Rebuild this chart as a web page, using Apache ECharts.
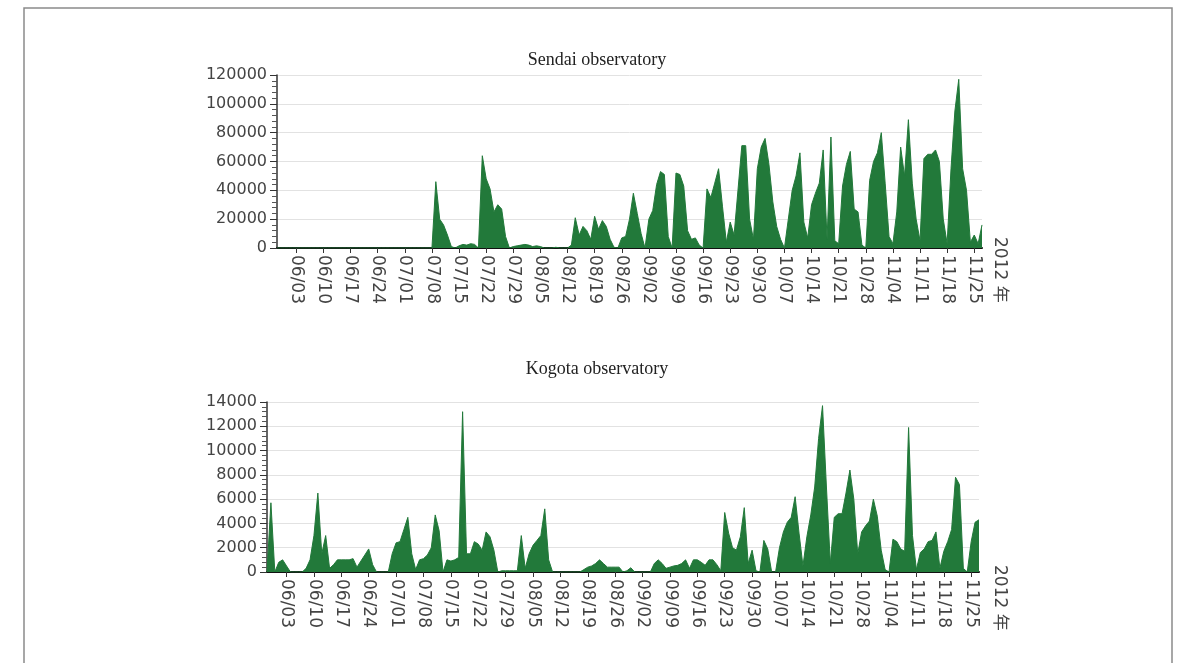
<!DOCTYPE html>
<html>
<head>
<meta charset="utf-8">
<script src="https://cdn.jsdelivr.net/npm/echarts@6/dist/echarts.min.js"></script>
<style>
  body { margin: 0; background: #fff; }
  #chart { width: 1181px; height: 663px; }
</style>
</head>
<body>
<div id="chart"></div>
<script>
// daily values, 2012-05-29 .. 2012-11-27
const sendai = [
  0, 0, 0, 0, 0, 0, 0, 0, 0, 0,
  0, 0, 0, 0, 0, 0, 0, 0, 0, 0,
  0, 0, 0, 0, 0, 0, 0, 0, 0, 0,
  0, 0, 0, 0, 0, 0, 0, 0, 0, 0,
  0, 46000, 20000, 16000, 9000, 1000, 0, 1500, 2500, 2000,
  3000, 2500, 0, 64000, 48000, 41000, 25000, 30000, 27000, 8000,
  0, 1000, 1500, 2000, 2500, 2000, 1000, 1500, 1000, 0,
  0, 0, 500, 0, 0, 0, 2000, 21000, 9000, 15000,
  12000, 6000, 22000, 13000, 19000, 15000, 6000, 500, 0, 7000,
  8000, 20000, 38000, 24000, 10000, 0, 20000, 26000, 44000, 53000,
  51000, 8000, 0, 52000, 51000, 43000, 12000, 6000, 7000, 2000,
  0, 41000, 35000, 45000, 55000, 29000, 4000, 18000, 9000, 40000,
  71000, 71000, 20000, 6000, 55000, 70000, 76000, 58000, 32000, 15000,
  6000, 0, 20000, 40000, 50000, 66000, 18000, 7000, 30000, 38000,
  45000, 68000, 6000, 77000, 5000, 3000, 43000, 58000, 67000, 27000,
  25000, 2000, 0, 47000, 60000, 66000, 80000, 45000, 8000, 3000,
  25000, 70000, 50000, 89000, 45000, 20000, 5000, 62000, 65000, 65000,
  68000, 60000, 20000, 3000, 55000, 95000, 117000, 55000, 40000, 4000,
  9000, 3000, 16000
];
const kogota = [
  0, 5700, 0, 800, 1000, 500, 0, 0, 0, 0,
  300, 1000, 3000, 6500, 1500, 3000, 300, 600, 1000, 1000,
  1000, 1000, 1100, 400, 900, 1400, 1900, 600, 0, 0,
  0, 0, 1500, 2400, 2500, 3500, 4500, 1500, 200, 1000,
  1100, 1400, 2000, 4700, 3400, 0, 1000, 900, 1000, 1200,
  13200, 1500, 1500, 2500, 2300, 1800, 3300, 2900, 1800, 0,
  100, 100, 100, 100, 100, 3000, 300, 1500, 2200, 2600,
  3000, 5200, 1000, 0, 0, 0, 0, 0, 0, 0,
  0, 200, 400, 500, 700, 1000, 700, 400, 400, 400,
  400, 0, 100, 350, 0, 0, 0, 0, 0, 700,
  1000, 700, 300, 400, 500, 550, 700, 1000, 300, 1000,
  1000, 800, 550, 1000, 1000, 600, 100, 4900, 3200, 2000,
  1800, 2900, 5300, 700, 1800, 100, 0, 2600, 1900, 0,
  0, 2000, 3300, 4100, 4500, 6200, 3200, 500, 2900, 4700,
  7000, 11000, 13700, 7000, 700, 4500, 4800, 4800, 6500, 8400,
  6000, 1500, 3300, 3800, 4200, 6000, 4600, 1800, 200, 0,
  2700, 2500, 1900, 1700, 11900, 3000, 200, 1600, 1900, 2500,
  2600, 3300, 300, 1700, 2500, 3500, 7800, 7200, 300, 0,
  2500, 4100, 4300
];
const tickLabels = [
  '06/03', '06/10', '06/17', '06/24', '07/01', '07/08', '07/15', '07/22', '07/29',
  '08/05', '08/12', '08/19', '08/26', '09/02', '09/09', '09/16', '09/23', '09/30',
  '10/07', '10/14', '10/21', '10/28', '11/04', '11/11', '11/18', '11/25'
];
const titles = ['Sendai observatory', 'Kogota observatory'];
const yearLabel = '2012 年';

// category per day
const days = [];
const d0 = new Date(2012, 4, 29);
for (let i = 0; i < sendai.length; i++) {
  const d = new Date(d0.getTime());
  d.setDate(d0.getDate() + i);
  days.push(String(d.getMonth() + 1).padStart(2, '0') + '/' + String(d.getDate()).padStart(2, '0'));
}

const green = '#22793a';
const showTick = (i, v) => tickLabels.includes(v);

const xAxisOf = (gi) => ({
  type: 'category',
  gridIndex: gi,
  data: days,
  boundaryGap: false,
  axisLine: { lineStyle: { color: '#111', width: 2 } },
  axisTick: { interval: showTick, length: 5, lineStyle: { color: '#333' } },
  axisLabel: {
    interval: showTick, rotate: -90, margin: 7,
    fontFamily: 'DejaVu Sans', fontSize: 17, color: '#444'
  },
  splitLine: { show: false }
});

const yAxisOf = (gi, max, step) => ({
  type: 'value',
  gridIndex: gi,
  min: 0, max: max, interval: step,
  axisLine: { show: true, lineStyle: { color: '#333', width: 1.5 } },
  axisTick: { show: true, length: 7, lineStyle: { color: '#333' } },
  minorTick: { show: true, splitNumber: 5, length: 5, lineStyle: { color: '#555' } },
  splitLine: { lineStyle: { color: '#e2e2e2' } },
  axisLabel: {
    margin: 10, fontFamily: 'DejaVu Sans', fontSize: 16, color: '#444',
    formatter: (v) => String(v)
  }
});

const areaSeries = (gi, data) => ({
  type: 'line',
  xAxisIndex: gi, yAxisIndex: gi,
  data: data,
  symbol: 'none',
  lineStyle: { width: 1, color: green },
  itemStyle: { color: green },
  areaStyle: { color: green, opacity: 1 }
});

const chart = echarts.init(document.getElementById('chart'));
chart.setOption({
  animation: false,
  backgroundColor: '#fff',
  grid: [
    { left: 277, right: 199, top: 75, bottom: 415 },
    { left: 267, right: 202, top: 402, bottom: 91 }
  ],
  xAxis: [xAxisOf(0), xAxisOf(1)],
  yAxis: [yAxisOf(0, 120000, 20000), yAxisOf(1, 14000, 2000)],
  series: [areaSeries(0, sendai), areaSeries(1, kogota)],
  graphic: [
    { type: 'rect', shape: { x: 24, y: 8, width: 1148, height: 720 },
      style: { fill: 'none', stroke: '#8a8a8a', lineWidth: 1.5 } },
    { type: 'text', x: 597, y: 60,
      style: { text: titles[0], textAlign: 'center', textVerticalAlign: 'middle',
               font: '18px "Liberation Serif"', fill: '#222' } },
    { type: 'text', x: 597, y: 369,
      style: { text: titles[1], textAlign: 'center', textVerticalAlign: 'middle',
               font: '18px "Liberation Serif"', fill: '#222' } },
    { type: 'text', x: 999, y: 237, rotation: -Math.PI / 2,
      style: { text: yearLabel, textAlign: 'left', textVerticalAlign: 'middle',
               font: '17px "DejaVu Sans", "Noto Sans CJK JP"', fill: '#444' } },
    { type: 'text', x: 999, y: 565, rotation: -Math.PI / 2,
      style: { text: yearLabel, textAlign: 'left', textVerticalAlign: 'middle',
               font: '17px "DejaVu Sans", "Noto Sans CJK JP"', fill: '#444' } }
  ]
});
</script>
</body>
</html>
